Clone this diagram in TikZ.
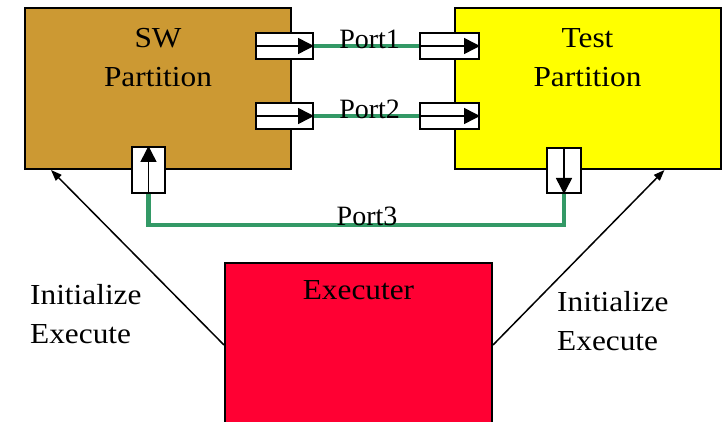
\documentclass[tikz,border=0pt]{standalone}
\usepackage{fontspec}
\setmainfont{Liberation Serif}
\newfontfamily\widefont{Liberation Serif}[FakeStretch=1.08]
\usetikzlibrary{arrows.meta}
\definecolor{swbrown}{HTML}{CC9933}
\definecolor{testyellow}{HTML}{FFFF00}
\definecolor{execred}{HTML}{FF0033}
\definecolor{portgreen}{HTML}{339966}

\begin{document}
\begin{tikzpicture}[x=1pt, y=-1pt,
  every node/.style={font=\fontsize{28}{39}\selectfont, inner sep=0pt},
  lbl/.style={font=\widefont\fontsize{29}{39}\selectfont},
  part/.style={draw, line width=2pt, minimum width=266pt, minimum height=161pt},
  portbox/.style={draw, fill=white, line width=2pt},
  portarrow/.style={line width=1.5pt, -{Triangle[length=16pt, width=16pt]}},
  portline/.style={portgreen, line width=4.5pt},
  ctrl/.style={line width=1.5pt, -{Triangle[length=11pt, width=8pt]}}]
  \clip (0,0) rectangle (726,422);
  \node[part, fill=swbrown] (sw) at (158,88.5) {};
  \node[part, fill=testyellow] (test) at (587.5,88.5) {};
  \node[part, fill=execred, minimum width=267pt, minimum height=164pt] (exec) at (358.5,345) {};
  \node[lbl, anchor=north, align=center] (swtext) at ([yshift=-21pt]sw.north) {SW\\Partition};
  \node[lbl, anchor=north, align=center] (testtext) at ([yshift=-21pt]test.north) {Test\\Partition};
  \node[lbl, anchor=base] (exectext) at ([yshift=-38pt]exec.north) {Executer};
  \foreach \p/\y in {1/46, 2/116} {
    \node[portbox, minimum width=57pt, minimum height=26pt] (p\p out) at (284.5,\y) {};
    \node[portbox, minimum width=59pt, minimum height=26pt] (p\p in) at (449.5,\y) {};
    \draw[portline] (p\p out.east) -- (p\p in.west)
      node[pos=0.53, anchor=base, yshift=-2.5pt, text=black] {Port\p};
    \draw[portarrow] (p\p out.west) -- (p\p out.east);
    \draw[portarrow] (p\p in.west) -- (p\p in.east);
  }
  \node[portbox, minimum width=33pt, minimum height=46pt] (p3out) at (148.5,170) {};
  \node[portbox, minimum width=34pt, minimum height=45pt] (p3in) at (564,170.5) {};
  \draw[portline] (p3out.south) -- ++(0,31) -| (p3in.south)
    node[pos=0.263, anchor=base, yshift=-1pt, text=black] {Port3};
  \draw[portarrow] (p3out.south) -- (p3out.north);
  \draw[portarrow] (p3in.north) -- (p3in.south);
  \node[lbl, anchor=north west, align=left] (initl) at (30,284) {Initialize\\Execute};
  \node[lbl, anchor=north west, align=left] (initr) at (557,291) {Initialize\\Execute};
  \draw[ctrl] (exec.west) -- ([xshift=27pt]sw.south west);
  \draw[ctrl] (exec.east) -- ([xshift=-57pt]test.south east);
\end{tikzpicture}
\end{document}
